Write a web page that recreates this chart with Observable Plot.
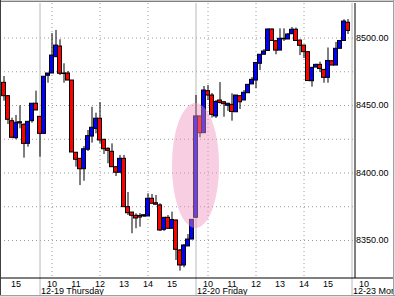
<!DOCTYPE html>
<html><head><meta charset="utf-8">
<script src="https://cdn.jsdelivr.net/npm/d3@7"></script>
<script src="https://cdn.jsdelivr.net/npm/@observablehq/plot@0.6"></script>
<style>
html,body{margin:0;padding:0;background:#fff;}
#chart svg{display:block;}
</style></head><body><div id="chart"></div>
<script>
// 10-minute candle slots (39 slots per session, slot 0 = 12-19 09:30)
const slots = d3.range(-9, 78);
const open = [8466.8,8456.9,8438.4,8425.8,8437.6,8435.7,8421.6,8438.4,8451.3,
  8441.6,8429.0,8472.0,8473.7,8485.8,8493.7,8473.7,8473.7,8468.5,8415.0,8410.5,8402.8,8417.2,8427.0,8432.7,8440.2,8424.6,8417.9,8415.7,8404.3,8400.2,8410.5,8374.7,8370.7,8368.3,8368.2,8367.8,8367.8,8380.9,8377.6,8376.0,8357.9,8366.8,8358.7,8364.8,8342.6,8331.5,8345.6,8350.7,
  8366.8,8441.9,8429.5,8460.6,8457.4,8441.9,8453.7,8452.4,8449.8,8450.5,8445.0,8456.9,8453.7,8459.1,8465.6,8468.5,8480.9,8487.6,8490.4,8506.3,8497.6,8490.7,8499.4,8498.9,8502.8,8506.1,8498.1,8494.4,8489.5,8468.0,8478.1,8480.1,8476.4,8470.5,8482.8,8479.6,8492.0,8497.8,8511.3];
const high = [8471.5,8457.4,8440.6,8442.6,8449.8,8436.4,8438.2,8451.3,8460.6,
  8441.6,8471.3,8473.7,8503.3,8505.6,8498.7,8480.9,8475.2,8468.5,8415.2,8410.7,8419.6,8431.5,8448.7,8444.3,8452.2,8424.8,8418.7,8421.6,8404.3,8413.0,8413.0,8385.6,8370.7,8369.8,8370.0,8369.3,8384.6,8384.1,8383.3,8377.2,8367.0,8368.5,8371.0,8365.2,8343.3,8347.0,8354.4,8365.3,
  8457.4,8441.9,8464.1,8464.8,8458.9,8453.7,8467.0,8453.0,8451.5,8458.7,8457.4,8456.9,8461.1,8465.6,8470.7,8481.9,8487.8,8491.5,8506.7,8506.7,8498.1,8506.8,8506.8,8503.3,8507.8,8507.4,8498.5,8494.4,8489.5,8478.1,8480.6,8482.1,8476.7,8492.6,8483.0,8496.7,8498.1,8513.5,8513.7];
const low = [8453.2,8435.9,8425.6,8424.6,8432.7,8411.0,8419.1,8436.9,8446.3,
  8411.7,8429.0,8466.5,8473.7,8485.8,8472.2,8466.5,8468.5,8415.2,8404.3,8390.7,8393.9,8415.9,8422.1,8429.0,8421.6,8413.7,8406.8,8404.1,8397.4,8400.2,8374.7,8368.5,8355.0,8358.7,8359.9,8367.0,8367.8,8377.2,8376.5,8356.7,8356.7,8358.2,8358.7,8335.2,8327.3,8329.8,8345.6,8350.7,
  8366.8,8426.1,8429.5,8453.7,8440.7,8440.4,8451.1,8441.3,8445.6,8438.4,8445.0,8447.0,8453.7,8459.1,8465.6,8462.4,8475.9,8487.6,8490.4,8497.8,8487.6,8490.7,8497.4,8498.9,8502.8,8497.4,8487.0,8484.8,8468.1,8463.6,8478.1,8474.4,8466.5,8466.5,8479.6,8479.6,8492.0,8497.8,8502.6];
const close = [8456.9,8439.4,8426.1,8437.2,8436.7,8421.6,8437.9,8451.3,8446.3,
  8429.0,8471.3,8473.7,8487.0,8494.4,8473.5,8473.3,8468.5,8415.2,8409.8,8402.8,8417.6,8427.3,8433.5,8440.2,8424.1,8417.6,8416.4,8404.3,8400.2,8410.5,8374.7,8370.2,8368.3,8366.3,8367.0,8368.7,8380.9,8377.2,8376.5,8357.4,8366.8,8358.7,8365.2,8343.1,8331.5,8346.3,8350.7,8365.3,
  8441.9,8429.5,8461.1,8457.4,8443.1,8452.6,8451.9,8451.0,8451.3,8445.2,8457.4,8452.4,8459.4,8465.3,8469.0,8481.5,8487.6,8490.0,8506.3,8497.8,8490.7,8499.4,8499.0,8502.6,8506.1,8497.8,8494.2,8489.5,8468.1,8477.9,8480.1,8477.0,8470.5,8483.0,8479.6,8492.0,8497.8,8512.2,8505.2];

// x-axis ticks (hour labels) and the session each belongs to (0 = 12-19)
const hourTicks    = [15, 10,11,12,13,14,15, 10,11,12,13,14,15, 10];
const hourTickDays = [-1,  0, 0, 0, 0, 0, 0,  1, 1, 1, 1, 1, 1,  2];
const dayLabels    = ["12-19 Thursday", "12-20 Friday", "12-23 Monday"];
const dayLabelDays = [0, 1, 2];
const gridHours    = [10, 12, 14];
const gridDays     = [0, 1];
const yLabelTicks  = [8350, 8400, 8450, 8500];
const yGridTicks   = [8350, 8375, 8400, 8425, 8450, 8475, 8500];
// highlighted gap (ellipse) centre and half-extent
const highlight = {slot: 39, price: 8405.2, halfSlots: 5.9, halfPrice: 46.3};

const SLOTS_PER_DAY = 39, SLOTS_PER_HOUR = 6, OPEN_HOUR = 9.5;
const slotOf = (day, hour) => day * SLOTS_PER_DAY + (hour - OPEN_HOUR) * SLOTS_PER_HOUR;

const rows = slots.map((k, i) => ({k, o: open[i], h: high[i], l: low[i], c: close[i]}));
const gridSlots = gridDays.flatMap(d => gridHours.map(h => slotOf(d, h)));
const daySlots = [0, 1, 2].map(d => slotOf(d, OPEN_HOUR));
const xDomain = [-9.875, 78.75];
const yDomain = [8321.85, 8525.56];
const font = "'Liberation Sans', Arial, sans-serif";

const chart = Plot.plot({
  width: 395, height: 297,
  marginLeft: 0, marginRight: 40.5, marginTop: 3, marginBottom: 19,
  style: {background: "#fff", fontFamily: font, fontSize: "9px", overflow: "hidden"},
  x: {domain: xDomain, axis: null},
  y: {domain: yDomain, axis: "right", ticks: yLabelTicks, tickSize: 0, tickPadding: 1,
      tickFormat: d3.format(".2f"), label: null},
  color: {type: "identity"},
  marks: [
    Plot.ruleY(yGridTicks, {stroke: "#9a9a9a", strokeDasharray: "1,3"}),
    Plot.ruleX(gridSlots, {stroke: "#9a9a9a", strokeDasharray: "1,3"}),
    Plot.ruleX(daySlots, {stroke: "#b8b8b8", insetBottom: -18}),
    Plot.ruleX(rows, {x: "k", y1: "l", y2: "h", stroke: "#000", strokeWidth: 1}),
    Plot.rect(rows, {
      x1: d => d.k - 0.5, x2: d => d.k + 0.5, y1: "o", y2: "c",
      fill: d => d.c >= d.o ? "#0000ff" : "#ff0000",
      stroke: "#000", strokeWidth: 1
    }),
    Plot.ruleX([xDomain[1]], {stroke: "#000"}),
    Plot.ruleY([yDomain[0]], {stroke: "#000", dy: -0.5, insetRight: -40}),
    Plot.text(hourTicks, {
      x: (h, i) => slotOf(hourTickDays[i], h), text: h => String(h),
      frameAnchor: "bottom", lineAnchor: "middle", dy: 5.6, fontSize: 9, fill: "#000"
    }),
    Plot.text(dayLabels, {
      x: (d, i) => slotOf(dayLabelDays[i], OPEN_HOUR), text: d => d,
      frameAnchor: "bottom", lineAnchor: "middle", textAnchor: "start",
      dx: 1, dy: 13, fontSize: 9, fill: "#000"
    })
  ]
});

document.getElementById("chart").appendChild(chart);

// highlight ellipse placed through the chart's own scales
const sx = chart.scale("x"), sy = chart.scale("y");
const cx = sx.apply(highlight.slot), cy = sy.apply(highlight.price);
const rx = sx.apply(highlight.slot + highlight.halfSlots) - cx;
const ry = sy.apply(highlight.price - highlight.halfPrice) - cy;
const svg = d3.select(chart);
svg.append("ellipse")
  .attr("cx", cx).attr("cy", cy).attr("rx", rx).attr("ry", ry)
  .attr("fill", "rgb(240,149,191)").attr("fill-opacity", 0.45);

// window frame
const frame = [
  {x1: 0, y1: 0.5, x2: 395, y2: 0.5, c: "#d0d0d0"},
  {x1: 0, y1: 1.5, x2: 395, y2: 1.5, c: "#808080"},
  {x1: 0.5, y1: 0, x2: 0.5, y2: 297, c: "#404040"},
  {x1: 393.5, y1: 0, x2: 393.5, y2: 297, c: "#a0a0a0"},
  {x1: 394.5, y1: 0, x2: 394.5, y2: 297, c: "#e0e0e0"},
  {x1: 0, y1: 295.5, x2: 395, y2: 295.5, c: "#a0a0a0"},
  {x1: 0, y1: 296.5, x2: 395, y2: 296.5, c: "#e0e0e0"}
];
svg.append("g").selectAll("line").data(frame).join("line")
  .attr("x1", d => d.x1).attr("y1", d => d.y1).attr("x2", d => d.x2).attr("y2", d => d.y2)
  .attr("stroke", d => d.c).attr("stroke-width", 1);
</script></body></html>
